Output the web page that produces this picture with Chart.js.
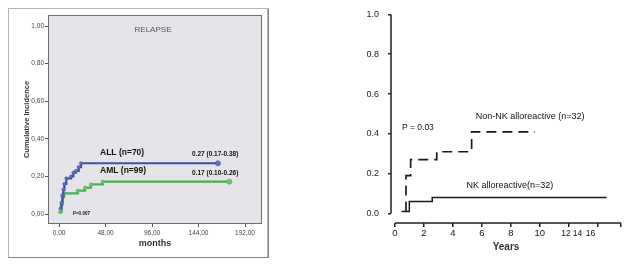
<!DOCTYPE html>
<html>
<head>
<meta charset="utf-8">
<script src="https://cdn.jsdelivr.net/npm/chart.js@4.4.1/dist/chart.umd.min.js"></script>
<style>
  html, body { margin: 0; padding: 0; background: #fff; }
  body { width: 632px; height: 267px; position: relative; overflow: hidden; }
  .box { position: absolute; top: 0; height: 267px; }
  #relapseBox { left: 0; width: 270px; }
  #nkBox { left: 330px; width: 302px; }
</style>
</head>
<body>
<div class="box" id="relapseBox"><canvas id="relapseChart"></canvas></div>
<div class="box" id="nkBox"><canvas id="nkChart"></canvas></div>
<script>
// left panel - relapse, months
var allMonths = [1.5, 2.5, 3.5, 4.5, 5.5, 7.5, 12.4, 14.8, 17.5, 20.3, 22.7, 164];
var allIncidence = [0.03, 0.06, 0.10, 0.13, 0.16, 0.19, 0.20, 0.22, 0.23, 0.25, 0.27, 0.27];
var amlMonths = [1.0, 2.6, 3.6, 5.2, 19.3, 26.8, 33.0, 45.1, 175.8];
var amlIncidence = [0.01, 0.05, 0.09, 0.11, 0.124, 0.14, 0.158, 0.172, 0.172];
var monthTicks = [0, 48, 96, 144, 192];
var incidenceTicks = [0, 0.2, 0.4, 0.6, 0.8, 1.0];

// right panel - years
var nkYears = [0.46, 0.99, 2.57, 14.6];
var nkIncidence = [0.01, 0.06, 0.08, 0.08];
var nonNkYears = [0.76, 0.76, 1.08, 2.88, 5.29, 9.66];
var nonNkIncidence = [0.01, 0.19, 0.27, 0.31, 0.41, 0.41];
var yearTicks = [0, 2, 4, 6, 8, 10, 12, 14];
var yearEnd = 15.6;
var squeezedYearLabels = ['12', '14', '16'];
var riskTicks = [0, 0.2, 0.4, 0.6, 0.8, 1.0];

Chart.defaults.font.family = '"Liberation Sans", Arial, sans-serif';

function toXY(xs, ys) {
    return xs.map(function (x, i) { return { x: x, y: ys[i] }; });
}

function notesPlugin(notes) {
    return {
        id: 'notes',
        afterDatasetsDraw: function (chart) {
            var ctx = chart.ctx, sx = chart.scales.x, sy = chart.scales.y;
            ctx.save();
            notes.forEach(function (n) {
                ctx.font = (n.bold ? 'bold ' : '') + n.size + 'px "Liberation Sans", Arial, sans-serif';
                ctx.fillStyle = n.color || '#111';
                ctx.textAlign = n.align || 'left';
                ctx.textBaseline = 'middle';
                ctx.fillText(n.text, sx.getPixelForValue(n.x), sy.getPixelForValue(n.y));
            });
            ctx.restore();
        }
    };
}

var spssFrame = {
    id: 'spssFrame',
    beforeDraw: function (chart) {
        var ctx = chart.ctx, a = chart.chartArea;
        ctx.save();
        ctx.strokeStyle = '#b4b4b4';
        ctx.lineWidth = 1;
        ctx.strokeRect(8.5, 8.5, 259, 249);
        ctx.strokeStyle = '#808080';
        ctx.beginPath();
        ctx.moveTo(8.5, 257.5); ctx.lineTo(268.5, 257.5); ctx.lineTo(268.5, 8.5);
        ctx.stroke();
        ctx.fillStyle = '#e4e4e9';
        ctx.fillRect(a.left, a.top, a.right - a.left, a.bottom - a.top);
        ctx.strokeStyle = '#707070';
        ctx.strokeRect(a.left + 0.5, a.top + 0.5, a.right - a.left - 1, a.bottom - a.top - 1);
        ctx.restore();
    }
};

function endMarker(n, small, big) {
    return function (c) { return c.dataIndex === n - 1 ? big : small; };
}

var ctx = document.getElementById('relapseChart');
if (ctx) {
    var relapseChart = new Chart(ctx, {
        type: 'line',
        data: {
            datasets: [{
                label: 'ALL (n=70)',
                data: toXY(allMonths, allIncidence),
                stepped: true,
                borderColor: '#3e50a6',
                borderWidth: 2.2,
                pointRadius: endMarker(allMonths.length, 1.6, 2.6),
                pointBackgroundColor: '#6172bd',
                pointBorderColor: '#3e50a6',
                pointBorderWidth: 0.5
            }, {
                label: 'AML (n=99)',
                data: toXY(amlMonths, amlIncidence),
                stepped: true,
                borderColor: '#47b04c',
                borderWidth: 2.2,
                pointRadius: endMarker(amlMonths.length, 1.6, 2.6),
                pointBackgroundColor: '#72c474',
                pointBorderColor: '#47b04c',
                pointBorderWidth: 0.5
            }]
        },
        options: {
            responsive: true,
            maintainAspectRatio: false,
            animation: false,
            layout: { padding: { left: 18, top: 15, right: 8, bottom: 18 } },
            plugins: { legend: { display: false }, tooltip: { enabled: false } },
            scales: {
                x: {
                    type: 'linear',
                    min: -11.4,
                    max: 209.5,
                    afterBuildTicks: function (s) { s.ticks = monthTicks.map(function (v) { return { value: v }; }); },
                    afterFit: function (s) { s.height = 25; },
                    grid: { drawOnChartArea: false, tickLength: 3, color: '#555' },
                    border: { display: false },
                    ticks: {
                        font: { size: 6.5 }, color: '#444', padding: 2, maxRotation: 0,
                        callback: function (v) { return v.toFixed(2).replace('.', ','); }
                    },
                    title: { display: true, text: 'months', font: { size: 9, weight: 'bold' }, color: '#333', padding: 0 }
                },
                y: {
                    min: -0.053,
                    max: 1.0585,
                    afterBuildTicks: function (s) { s.ticks = incidenceTicks.map(function (v) { return { value: v }; }); },
                    afterFit: function (s) { s.width = 30; },
                    grid: { drawOnChartArea: false, tickLength: 3, color: '#555' },
                    border: { display: false },
                    ticks: {
                        font: { size: 6.5 }, color: '#444', padding: 1,
                        callback: function (v) { return v.toFixed(2).replace('.', ','); }
                    },
                    title: { display: true, text: 'Cumulative Incidence', font: { size: 7.5, weight: 'bold' }, color: '#333', padding: { top: 4, bottom: 0 } }
                }
            }
        },
        plugins: [spssFrame, notesPlugin([
            { text: 'RELAPSE', x: 97, y: 0.978, size: 8, color: '#555', align: 'center' },
            { text: 'ALL (n=70)', x: 42.3, y: 0.324, size: 8.5, bold: true },
            { text: 'AML (n=99)', x: 42.3, y: 0.229, size: 8.5, bold: true },
            { text: '0.27 (0.17-0.38)', x: 137.3, y: 0.319, size: 6.5, bold: true },
            { text: '0.17 (0.10-0.26)', x: 137.3, y: 0.218, size: 6.5, bold: true },
            { text: 'P=0.007', x: 14.4, y: 0.0, size: 4.5, bold: true }
        ])]
    });
}

var nkAxes = {
    id: 'nkAxes',
    afterDraw: function (chart) {
        var c = chart.ctx, sx = chart.scales.x, sy = chart.scales.y, a = chart.chartArea;
        c.save();
        c.strokeStyle = '#222';
        c.lineWidth = 1.5;
        c.beginPath();
        c.moveTo(a.left, sy.getPixelForValue(0));
        c.lineTo(a.left, sy.getPixelForValue(1));
        c.moveTo(sx.getPixelForValue(0), a.bottom);
        c.lineTo(sx.getPixelForValue(yearEnd), a.bottom);
        c.stroke();
        // the last three year labels sit squeezed together in the original
        c.font = '8.5px "Liberation Sans", Arial, sans-serif';
        c.fillStyle = '#111';
        c.textAlign = 'center';
        c.textBaseline = 'top';
        var at = [11.8, 12.6, 13.5];
        squeezedYearLabels.forEach(function (t, i) {
            c.fillText(t, sx.getPixelForValue(at[i]), a.bottom + 6);
        });
        c.restore();
    }
};

var ctx2 = document.getElementById('nkChart');
if (ctx2) {
    var nkChart = new Chart(ctx2, {
        type: 'line',
        data: {
            datasets: [{
                label: 'Non-NK alloreactive (n=32)',
                data: toXY(nonNkYears, nonNkIncidence),
                stepped: true,
                borderColor: '#1a1a1a',
                borderWidth: 1.7,
                borderDash: [10, 6],
                pointRadius: 0
            }, {
                label: 'NK alloreactive(n=32)',
                data: toXY(nkYears, nkIncidence),
                stepped: true,
                borderColor: '#1a1a1a',
                borderWidth: 1.5,
                pointRadius: 0
            }]
        },
        options: {
            responsive: true,
            maintainAspectRatio: false,
            animation: false,
            layout: { padding: { left: 21, top: 14, right: 11, bottom: 14 } },
            plugins: { legend: { display: false }, tooltip: { enabled: false } },
            scales: {
                x: {
                    type: 'linear',
                    min: -0.276,
                    max: yearEnd,
                    afterBuildTicks: function (s) {
                        s.ticks = yearTicks.concat([yearEnd]).map(function (v) { return { value: v }; });
                    },
                    afterFit: function (s) { s.height = 30; },
                    grid: { drawOnChartArea: false, tickLength: 4, color: '#222', lineWidth: 1.5 },
                    border: { display: false },
                    ticks: {
                        font: { size: 9.5 }, color: '#111', padding: 1, maxRotation: 0,
                        callback: function (v) { return v <= 10 ? String(v) : ''; }
                    },
                    title: { display: true, text: 'Years', font: { size: 10, weight: 'bold' }, color: '#333', padding: 0 }
                },
                y: {
                    min: -0.048,
                    max: 1.0,
                    afterBuildTicks: function (s) { s.ticks = riskTicks.map(function (v) { return { value: v }; }); },
                    afterFit: function (s) { s.width = 40; },
                    grid: { drawOnChartArea: false, tickLength: 3, color: '#222', lineWidth: 1.5 },
                    border: { display: false },
                    ticks: {
                        font: { size: 9 }, color: '#222', padding: 9,
                        callback: function (v) { return v.toFixed(1); }
                    }
                }
            }
        },
        plugins: [nkAxes, notesPlugin([
            { text: 'P = 0.03', x: 0.48, y: 0.43, size: 8.5 },
            { text: 'Non-NK alloreactive (n=32)', x: 5.57, y: 0.489, size: 9 },
            { text: 'NK alloreactive(n=32)', x: 4.94, y: 0.139, size: 9 }
        ])]
    });
}
</script>
</body>
</html>
